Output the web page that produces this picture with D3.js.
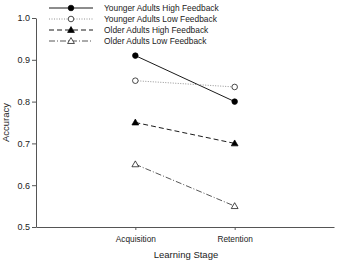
<!DOCTYPE html>
<html>
<head>
<meta charset="utf-8">
<script src="https://cdn.jsdelivr.net/npm/d3@7"></script>
<style>
  body { margin: 0; background: #fff; }
  text { font-family: "Liberation Sans", Arial, sans-serif; }
</style>
</head>
<body>
<script>
// data
const stages = ["Acquisition", "Retention"];
const seriesNames = ["Younger Adults High Feedback", "Younger Adults Low Feedback",
                     "Older Adults High Feedback", "Older Adults Low Feedback"];
const youngerHigh = [0.91, 0.80];
const youngerLow = [0.85, 0.835];
const olderHigh = [0.75, 0.70];
const olderLow = [0.65, 0.55];
const yTicks = [0.5, 0.6, 0.7, 0.8, 0.9, 1.0];

const series = [
    { name: seriesNames[0], values: youngerHigh, dash: null, color: "#000", marker: "circle", fill: "#000" },
    { name: seriesNames[1], values: youngerLow, dash: "1,1.5", color: "#888", marker: "circle", fill: "#fff" },
    { name: seriesNames[2], values: olderHigh, dash: "5,3", color: "#000", marker: "triangle", fill: "#000" },
    { name: seriesNames[3], values: olderLow, dash: "6,2,1,2", color: "#444", marker: "triangle", fill: "#fff" }
];

const width = 341, height = 261;
const margin = { top: 18, right: 7, bottom: 34, left: 36 };

const svg = d3.select("body").append("svg")
    .attr("width", width)
    .attr("height", height);

// scales
const x = d3.scaleLinear()
    .domain([0, 3])
    .range([margin.left, width - margin.right]);

const y = d3.scaleLinear()
    .domain([0.5, 1.0])
    .range([height - margin.bottom, margin.top]);

// axes
const xAxis = svg.append("g")
    .attr("transform", `translate(0,${height - margin.bottom})`)
    .call(d3.axisBottom(x).tickValues([1, 2]).tickFormat(d => stages[d - 1]).tickSize(3).tickSizeOuter(0).tickPadding(6));

const yAxis = svg.append("g")
    .attr("transform", `translate(${margin.left},0)`)
    .call(d3.axisLeft(y).tickValues(yTicks).tickFormat(d3.format(".1f")).tickSize(4).tickSizeOuter(0).tickPadding(2));

[xAxis, yAxis].forEach(g => {
    g.select(".domain").attr("stroke", "#555");
    g.selectAll(".tick line").attr("stroke", "#555");
    g.selectAll(".tick text").attr("fill", "#222")
        .attr("font-family", "Liberation Sans, Arial, sans-serif");
});
xAxis.selectAll(".tick text").attr("font-size", 8.3);
yAxis.selectAll(".tick text").attr("font-size", 9);

svg.append("text")
    .attr("x", 186).attr("y", 258)
    .attr("text-anchor", "middle")
    .attr("font-size", 9.5)
    .attr("fill", "#222")
    .text("Learning Stage");

svg.append("text")
    .attr("transform", `translate(9,${y(0.75)}) rotate(-90)`)
    .attr("text-anchor", "middle")
    .attr("font-size", 9.5)
    .attr("fill", "#222")
    .text("Accuracy");

function drawMarker(g, s, cx, cy) {
    if (s.marker === "circle") {
        g.append("circle").attr("cx", cx).attr("cy", cy).attr("r", 2.8)
            .attr("fill", s.fill).attr("stroke", "#000").attr("stroke-width", 0.7);
    } else {
        g.append("path")
            .attr("d", d3.symbol(d3.symbolTriangle, 20)())
            .attr("transform", `translate(${cx},${cy + 0.5})`)
            .attr("fill", s.fill).attr("stroke", "#000").attr("stroke-width", 0.7);
    }
}

// lines
const line = d3.line()
    .x((d, i) => x(i + 1))
    .y(d => y(d));

series.forEach(s => {
    svg.append("path")
        .datum(s.values)
        .attr("d", line)
        .attr("fill", "none")
        .attr("stroke", s.color)
        .attr("stroke-width", 0.9)
        .attr("stroke-dasharray", s.dash);
    const g = svg.append("g");
    s.values.forEach((v, i) => drawMarker(g, s, x(i + 1), y(v)));
});

// legend
const legend = svg.append("g");
series.forEach((s, i) => {
    const ly = 8 + i * 11;
    legend.append("line")
        .attr("x1", 49).attr("x2", 93)
        .attr("y1", ly).attr("y2", ly)
        .attr("stroke", s.color)
        .attr("stroke-width", 0.9)
        .attr("stroke-dasharray", s.dash);
    drawMarker(legend, s, 71, ly);
    legend.append("text")
        .attr("x", 104).attr("y", ly + 3)
        .attr("font-size", 8.4)
        .attr("fill", "#222")
        .text(s.name);
});
</script>
</body>
</html>
